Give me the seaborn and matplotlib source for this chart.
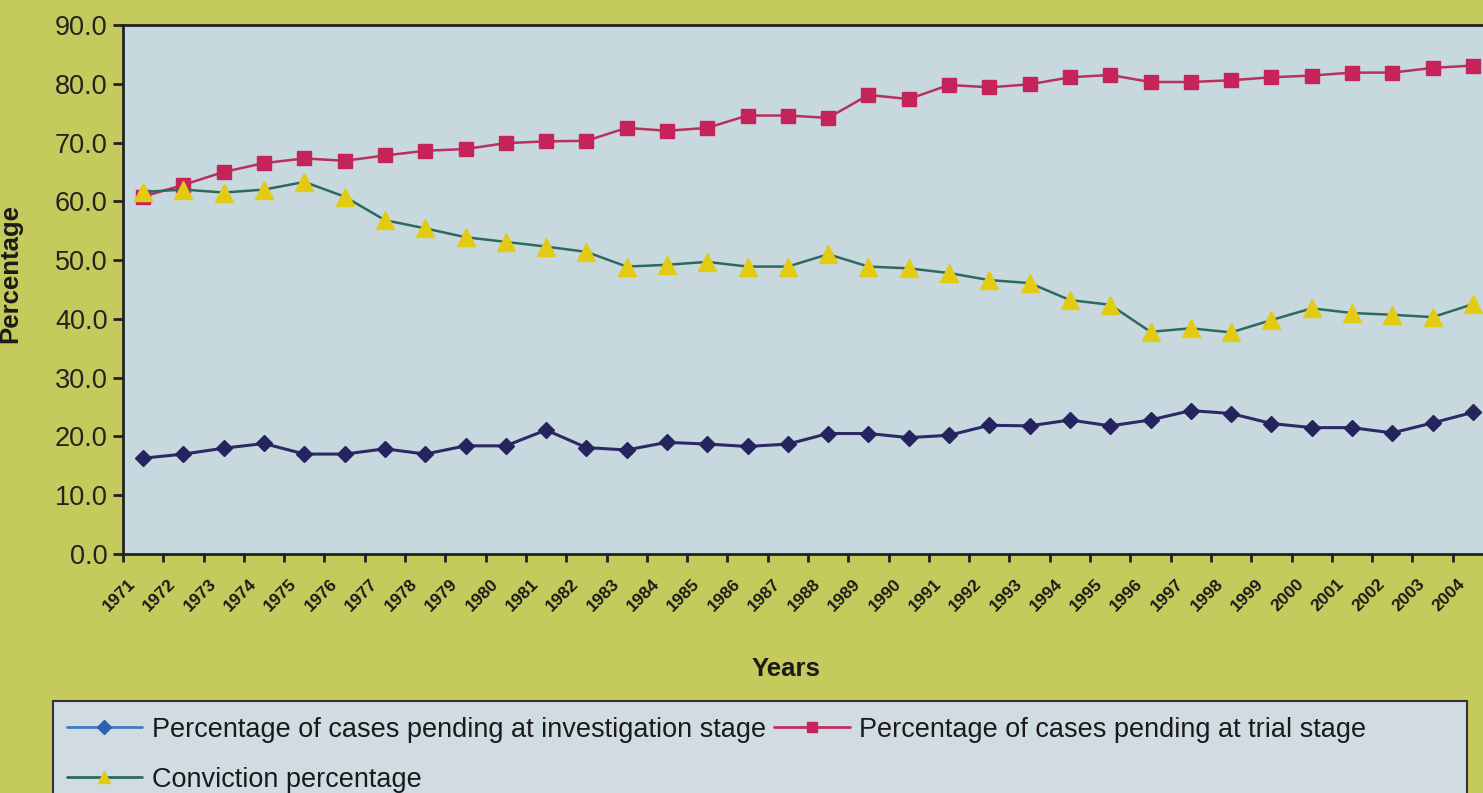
import numpy as np
import pandas as pd
import matplotlib
matplotlib.use("Agg")
import matplotlib.pyplot as plt
import matplotlib.transforms as mtransforms
from matplotlib.lines import Line2D
from matplotlib.patches import Rectangle
import seaborn as sns

years = list(range(1971, 2005))

# percentage of cases pending at investigation stage
investigation = [16.3, 17.0, 18.0, 18.8, 17.0, 17.0, 17.9, 17.0, 18.4, 18.4,
                 21.1, 18.1, 17.7, 19.0, 18.7, 18.3, 18.7, 20.5, 20.5, 19.8,
                 20.2, 21.9, 21.8, 22.8, 21.8, 22.8, 24.4, 23.9, 22.2, 21.5,
                 21.5, 20.6, 22.3, 24.1]

# percentage of cases pending at trial stage
trial = [60.8, 62.8, 65.0, 66.5, 67.3, 66.9, 67.8, 68.6, 68.9, 69.9,
         70.2, 70.3, 72.5, 72.0, 72.5, 74.6, 74.6, 74.2, 78.1, 77.4,
         79.8, 79.4, 79.9, 81.1, 81.5, 80.3, 80.3, 80.6, 81.1, 81.4,
         81.9, 81.9, 82.7, 83.1]

# conviction percentage
conviction = [61.6, 62.0, 61.5, 62.0, 63.3, 60.8, 56.8, 55.4, 53.9, 53.1,
              52.3, 51.4, 48.9, 49.2, 49.7, 48.9, 48.9, 51.0, 48.9, 48.6,
              47.8, 46.6, 46.1, 43.2, 42.4, 37.8, 38.4, 37.7, 39.8, 41.8,
              41.0, 40.7, 40.3, 42.5]

label_inv = "Percentage of cases pending at investigation stage"
label_trial = "Percentage of cases pending at trial stage"
label_conv = "Conviction percentage"

y_ticks = np.arange(0, 91, 10)

df = pd.DataFrame({"year": years, "inv": investigation,
                   "trial": trial, "conv": conviction})

sns.set_theme(style="white")
plt.rcParams["font.family"] = ["Liberation Sans", "DejaVu Sans"]

bg = "#c4cb5c"
plot_bg = "#c8d8df"

fig = plt.figure(figsize=(14.83, 7.93), dpi=100, facecolor=bg)
ax = fig.add_axes([123 / 1483, 1 - 554 / 793, 1370 / 1483, 529 / 793])
ax.set_facecolor(plot_bg)

sns.lineplot(data=df, x="year", y="inv", ax=ax, color="#2b2a66", lw=2.2,
             marker="D", markersize=8, mfc="#26245e", mec="#26245e", mew=1)
sns.lineplot(data=df, x="year", y="trial", ax=ax, color="#b8305e", lw=1.8,
             marker="s", markersize=10, mfc="#c4245a", mec="#c4245a", mew=1)
sns.lineplot(data=df, x="year", y="conv", ax=ax, color="#2e6a5c", lw=1.8,
             marker="^", markersize=12.5, mfc="#e2cb12", mec="#e2cb12", mew=1)

ax.set_xlim(1970.5, 2004.5)
ax.set_ylim(0, 90)
ax.set_yticks(y_ticks)
ax.set_yticklabels([f"{v:.1f}" for v in y_ticks], fontsize=19.5, color="#222222")
ax.set_xticks(years)
ax.set_xticklabels([str(y) for y in years], fontsize=12.5, fontweight="bold",
                   rotation=45, ha="right", va="center", rotation_mode="anchor",
                   color="#1a1a1a")
ax.set_xticks(np.arange(1970.5, 2005, 1.0), minor=True)
ax.tick_params(axis="x", which="major", length=0, pad=20)
ax.tick_params(axis="x", which="minor", length=6, width=2, color="#222222",
               direction="out", bottom=True)
ax.tick_params(axis="y", length=7, width=2, color="#222222", direction="out",
               left=True, pad=4)

# shift the year labels a little to the left, as in the original
offset = mtransforms.ScaledTranslation(-10 / 100, 0, fig.dpi_scale_trans)
for lab in ax.get_xticklabels():
    lab.set_transform(lab.get_transform() + offset)

for side in ["left", "bottom", "top"]:
    ax.spines[side].set_color("#222222")
    ax.spines[side].set_linewidth(2)
ax.spines["right"].set_visible(False)

ax.set_xlabel("Years", fontsize=18.5, fontweight="bold", color="#1a1a1a")
ax.set_ylabel("Percentage", fontsize=18.5, fontweight="bold", color="#1a1a1a")
ax.xaxis.set_label_coords((786 - 123) / 1370, -(657 - 554) / 529)
ax.yaxis.set_label_coords(-(123 - 22) / 1370, 0.53)

# legend box, drawn separately so it reaches the width of the original
fig.patches.append(Rectangle((53 / 1483, -0.05), (1467 - 53) / 1483,
                             0.05 + (793 - 701) / 793,
                             transform=fig.transFigure, facecolor="#d0dce2",
                             edgecolor="#333333", linewidth=1.5, zorder=0))

handles = [
    Line2D([], [], color="#3f7cc0", lw=2, marker="D", markersize=7,
           mfc="#3060b0", mec="#3060b0"),
    Line2D([], [], color="#2e6a5c", lw=2, marker="^", markersize=8,
           mfc="#e2cb12", mec="#e2cb12"),
    Line2D([], [], color="#c03060", lw=2, marker="s", markersize=7,
           mfc="#c4245a", mec="#c4245a"),
]
labels = [label_inv, label_conv, label_trial]
leg = fig.legend(handles, labels, ncol=2, loc="upper left",
                 bbox_to_anchor=(53 / 1483, 1 - 703 / 793),
                 fontsize=19.5, frameon=False,
                 handlelength=2.8, handletextpad=0.35, columnspacing=0.3,
                 borderpad=0.5, labelspacing=0.9, borderaxespad=0)
for t in leg.get_texts():
    t.set_color("#1a1a1a")

fig.savefig("out.png", dpi=100, facecolor=bg)
